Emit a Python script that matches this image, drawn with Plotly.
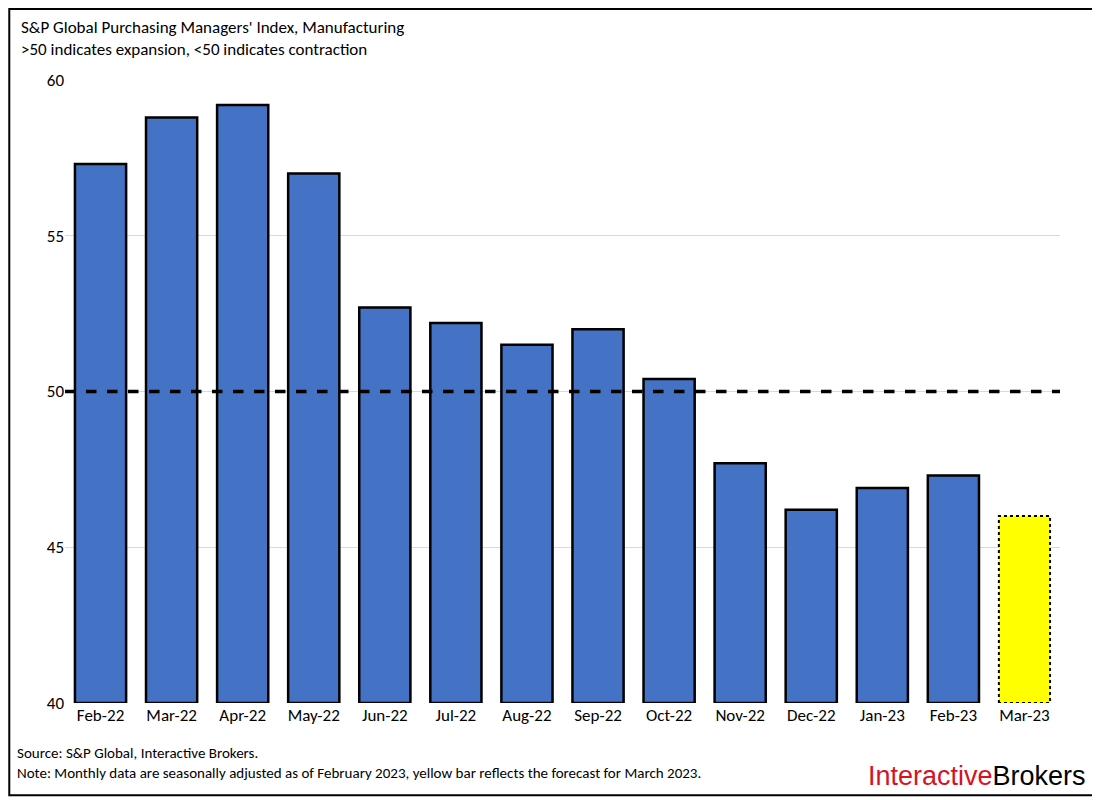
import plotly.graph_objects as go

months = ["Feb-22","Mar-22","Apr-22","May-22","Jun-22","Jul-22","Aug-22","Sep-22","Oct-22","Nov-22","Dec-22","Jan-23","Feb-23","Mar-23"]
values = [57.3,58.8,59.2,57.0,52.7,52.2,51.5,52.0,50.4,47.7,46.2,46.9,47.3,46.0]
forecast = [False]*13 + [True]
threshold = 50
base = 40
W = 0.72

xs = list(range(len(months)))
fig = go.Figure()
fig.add_trace(go.Bar(x=[x for x, f in zip(xs, forecast) if not f],
                     y=[v - base for v, f in zip(values, forecast) if not f], base=base,
                     width=W, marker=dict(color="#4472C4", line=dict(color="black", width=2.5))))
for x, v, f in zip(xs, values, forecast):
    if f:
        fig.add_trace(go.Bar(x=[x], y=[v - base], base=base, width=W,
                             marker=dict(color="#FFFF00", line=dict(width=0))))
        fig.add_trace(go.Scatter(x=[x-W/2, x-W/2, x+W/2, x+W/2, x-W/2], y=[base, v, v, base, base],
                                 mode="lines", line=dict(color="black", width=2, dash="dot")))
fig.add_shape(type="line", xref="paper", x0=0, x1=1, y0=threshold, y1=threshold,
              line=dict(color="black", width=3.5, dash="dash"))
fig.add_shape(type="rect", xref="paper", yref="paper", x0=-0.056, x1=1.035, y0=-0.148, y1=1.114,
              line=dict(color="black", width=2))

fig.update_layout(
    width=1092, height=792, plot_bgcolor="white", paper_bgcolor="white",
    showlegend=False, bargap=0.28,
    margin=dict(l=57, r=40, t=72, b=97, autoexpand=False),
    font=dict(family="Calibri, Carlito, Liberation Sans, Arial", size=17, color="black"),
    xaxis=dict(tickmode="array", tickvals=xs, ticktext=months, range=[-0.5, 13.5],
               showline=False, ticks="", tickfont=dict(size=17)),
    yaxis=dict(range=[40, 60], dtick=5, showgrid=True, gridcolor="#d9d9d9", zeroline=False,
               tickfont=dict(size=17), ticks=""),
    annotations=[
        dict(text="S&P Global Purchasing Managers' Index, Manufacturing<br>>50 indicates expansion, <50 indicates contraction",
             xref="paper", yref="paper", x=-0.046, y=1.105, xanchor="left", yanchor="top",
             showarrow=False, align="left", font=dict(size=17)),
        dict(text="Source: S&P Global, Interactive Brokers.<br>Note: Monthly data are seasonally adjusted as of February 2023, yellow bar reflects the forecast for March 2023.",
             xref="paper", yref="paper", x=-0.05, y=-0.063, xanchor="left", yanchor="top",
             showarrow=False, align="left", font=dict(size=15)),
        dict(text="<span style='color:#d81222'>Interactive</span>Brokers",
             xref="paper", yref="paper", x=1.028, y=-0.09, xanchor="right", yanchor="top",
             showarrow=False, font=dict(size=27, family="Liberation Sans, Arial")),
    ],
)
fig.write_html("out.html")
